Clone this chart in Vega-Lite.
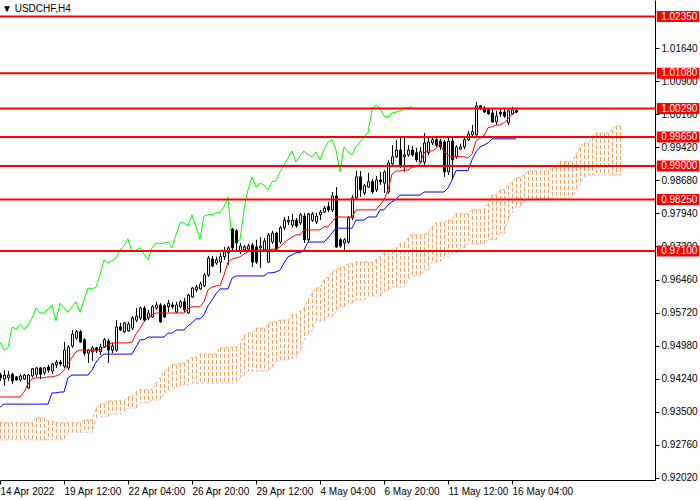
{
  "$schema": "https://vega.github.io/schema/vega-lite/v6.json",
  "width": 655,
  "height": 480,
  "autosize": {"type": "none"},
  "padding": {"left": 0, "top": 0, "right": 45, "bottom": 20},
  "background": "white",
  "config": {
    "view": {"stroke": null},
    "axis": {"grid": false, "title": null, "labelFont": "Liberation Sans", "labelFontSize": 10, "labelColor": "black", "domainColor": "black", "tickColor": "black", "labelOverlap": false, "labelSeparation": 0},
    "scale": {"continuousPadding": 0}
  },
  "title": {"text": "▼  USDCHF,H4", "anchor": "start", "frame": "group", "font": "Liberation Sans", "fontSize": 10, "fontWeight": "normal", "color": "black", "dx": 2, "dy": 14, "offset": 0},
  "datasets": {
    "bars": [
      {"i":0,"o":0.9432,"h":0.9437,"l":0.9419,"c":0.9426,"tk":0.9383,"kj":0.936,"ck":0.9506,"sa":0.9325,"sb":0.9287},
      {"i":1,"o":0.9423,"h":0.9443,"l":0.9408,"c":0.9432,"tk":0.9383,"kj":0.9367,"ck":0.9488,"sa":0.9325,"sb":0.9287},
      {"i":2,"o":0.9426,"h":0.9441,"l":0.9419,"c":0.9432,"tk":0.9383,"kj":0.9367,"ck":0.9493,"sa":0.9325,"sb":0.9287},
      {"i":3,"o":0.9434,"h":0.9437,"l":0.9412,"c":0.9419,"tk":0.9383,"kj":0.9367,"ck":0.954,"sa":0.9325,"sb":0.9287},
      {"i":4,"o":0.9428,"h":0.943,"l":0.9419,"c":0.9421,"tk":0.9383,"kj":0.9367,"ck":0.9535,"sa":0.9325,"sb":0.9287},
      {"i":5,"o":0.9421,"h":0.9434,"l":0.9417,"c":0.943,"tk":0.9383,"kj":0.9367,"ck":0.9546,"sa":0.9325,"sb":0.9287},
      {"i":6,"o":0.9423,"h":0.9434,"l":0.9421,"c":0.9432,"tk":0.9394,"kj":0.9367,"ck":0.9535,"sa":0.9325,"sb":0.9287},
      {"i":7,"o":0.9403,"h":0.9434,"l":0.9401,"c":0.9432,"tk":0.9412,"kj":0.9367,"ck":0.9544,"sa":0.9325,"sb":0.9287},
      {"i":8,"o":0.943,"h":0.9448,"l":0.9426,"c":0.9446,"tk":0.9423,"kj":0.9367,"ck":0.956,"sa":0.9325,"sb":0.9287},
      {"i":9,"o":0.9434,"h":0.945,"l":0.9428,"c":0.9448,"tk":0.9426,"kj":0.9367,"ck":0.9582,"sa":0.9336,"sb":0.9287},
      {"i":10,"o":0.9448,"h":0.945,"l":0.9423,"c":0.9434,"tk":0.9426,"kj":0.9367,"ck":0.9571,"sa":0.9336,"sb":0.9287},
      {"i":11,"o":0.9437,"h":0.945,"l":0.9432,"c":0.9448,"tk":0.9426,"kj":0.9367,"ck":0.9571,"sa":0.9336,"sb":0.9287},
      {"i":12,"o":0.945,"h":0.9455,"l":0.9437,"c":0.9443,"tk":0.9428,"kj":0.9367,"ck":0.958,"sa":0.9329,"sb":0.9287},
      {"i":13,"o":0.9441,"h":0.9459,"l":0.9434,"c":0.9457,"tk":0.9428,"kj":0.9392,"ck":0.9589,"sa":0.9329,"sb":0.9287},
      {"i":14,"o":0.9455,"h":0.9466,"l":0.9448,"c":0.9461,"tk":0.943,"kj":0.9392,"ck":0.9553,"sa":0.9325,"sb":0.9287},
      {"i":15,"o":0.9461,"h":0.9466,"l":0.9452,"c":0.9457,"tk":0.9434,"kj":0.9394,"ck":0.9593,"sa":0.9325,"sb":0.9287},
      {"i":16,"o":0.9452,"h":0.9506,"l":0.9448,"c":0.9488,"tk":0.9443,"kj":0.9394,"ck":0.9582,"sa":0.9325,"sb":0.9287},
      {"i":17,"o":0.9448,"h":0.9499,"l":0.9443,"c":0.9495,"tk":0.9457,"kj":0.9426,"ck":0.9573,"sa":0.9325,"sb":0.9304},
      {"i":18,"o":0.9497,"h":0.9533,"l":0.9493,"c":0.9524,"tk":0.9472,"kj":0.9432,"ck":0.9585,"sa":0.9325,"sb":0.9304},
      {"i":19,"o":0.9515,"h":0.9533,"l":0.9511,"c":0.9529,"tk":0.9484,"kj":0.9432,"ck":0.9596,"sa":0.9325,"sb":0.9304},
      {"i":20,"o":0.9529,"h":0.9533,"l":0.9504,"c":0.9506,"tk":0.9488,"kj":0.9432,"ck":0.9573,"sa":0.9325,"sb":0.9304},
      {"i":21,"o":0.9511,"h":0.9515,"l":0.9475,"c":0.9481,"tk":0.9488,"kj":0.9432,"ck":0.96,"sa":0.9331,"sb":0.9304},
      {"i":22,"o":0.9481,"h":0.949,"l":0.9459,"c":0.9488,"tk":0.9488,"kj":0.9432,"ck":0.9627,"sa":0.9331,"sb":0.9304},
      {"i":23,"o":0.9484,"h":0.9497,"l":0.9464,"c":0.9493,"tk":0.9488,"kj":0.9443,"ck":0.9625,"sa":0.9331,"sb":0.9304},
      {"i":24,"o":0.9493,"h":0.9495,"l":0.9481,"c":0.9486,"tk":0.9488,"kj":0.9461,"ck":0.9629,"sa":0.9358,"sb":0.9331},
      {"i":25,"o":0.9484,"h":0.9502,"l":0.9477,"c":0.9495,"tk":0.9488,"kj":0.9472,"ck":0.9656,"sa":0.9367,"sb":0.934},
      {"i":26,"o":0.9495,"h":0.9515,"l":0.9493,"c":0.9511,"tk":0.9495,"kj":0.9479,"ck":0.969,"sa":0.9367,"sb":0.934},
      {"i":27,"o":0.9508,"h":0.9513,"l":0.9459,"c":0.9488,"tk":0.9499,"kj":0.9479,"ck":0.9683,"sa":0.9374,"sb":0.934},
      {"i":28,"o":0.9488,"h":0.9504,"l":0.9481,"c":0.9497,"tk":0.9504,"kj":0.9479,"ck":0.9688,"sa":0.9374,"sb":0.9345},
      {"i":29,"o":0.9488,"h":0.9555,"l":0.9484,"c":0.954,"tk":0.9504,"kj":0.9479,"ck":0.9694,"sa":0.9374,"sb":0.9345},
      {"i":30,"o":0.954,"h":0.9549,"l":0.9531,"c":0.9533,"tk":0.9504,"kj":0.9479,"ck":0.9712,"sa":0.9374,"sb":0.9345},
      {"i":31,"o":0.9529,"h":0.9551,"l":0.9526,"c":0.9549,"tk":0.9504,"kj":0.9479,"ck":0.9721,"sa":0.9374,"sb":0.9351},
      {"i":32,"o":0.9531,"h":0.9551,"l":0.9529,"c":0.9546,"tk":0.9504,"kj":0.9479,"ck":0.9737,"sa":0.9383,"sb":0.9358},
      {"i":33,"o":0.9537,"h":0.9564,"l":0.9533,"c":0.956,"tk":0.9506,"kj":0.9479,"ck":0.9708,"sa":0.9383,"sb":0.9358},
      {"i":34,"o":0.9555,"h":0.9582,"l":0.9551,"c":0.9564,"tk":0.9524,"kj":0.9495,"ck":0.9712,"sa":0.9394,"sb":0.9358},
      {"i":35,"o":0.956,"h":0.9585,"l":0.9555,"c":0.9582,"tk":0.9537,"kj":0.9511,"ck":0.9717,"sa":0.9399,"sb":0.937},
      {"i":36,"o":0.9582,"h":0.9587,"l":0.9551,"c":0.9555,"tk":0.9551,"kj":0.9511,"ck":0.9703,"sa":0.9399,"sb":0.937},
      {"i":37,"o":0.956,"h":0.9578,"l":0.9555,"c":0.9571,"tk":0.956,"kj":0.9517,"ck":0.969,"sa":0.9399,"sb":0.937},
      {"i":38,"o":0.9562,"h":0.9589,"l":0.956,"c":0.9585,"tk":0.9567,"kj":0.9517,"ck":0.9717,"sa":0.9399,"sb":0.9376},
      {"i":39,"o":0.9582,"h":0.9596,"l":0.9578,"c":0.9589,"tk":0.9571,"kj":0.9517,"ck":0.9728,"sa":0.9414,"sb":0.9376},
      {"i":40,"o":0.9589,"h":0.9593,"l":0.9549,"c":0.9551,"tk":0.9571,"kj":0.9517,"ck":0.9726,"sa":0.9426,"sb":0.9376},
      {"i":41,"o":0.9587,"h":0.9591,"l":0.956,"c":0.9562,"tk":0.9571,"kj":0.9517,"ck":0.9728,"sa":0.9439,"sb":0.9394},
      {"i":42,"o":0.9585,"h":0.96,"l":0.9573,"c":0.9593,"tk":0.9571,"kj":0.9526,"ck":0.973,"sa":0.9448,"sb":0.9394},
      {"i":43,"o":0.9589,"h":0.9596,"l":0.958,"c":0.9585,"tk":0.9571,"kj":0.9526,"ck":0.9717,"sa":0.9455,"sb":0.9403},
      {"i":44,"o":0.9573,"h":0.9596,"l":0.9571,"c":0.9589,"tk":0.9571,"kj":0.9533,"ck":0.9746,"sa":0.9455,"sb":0.9403},
      {"i":45,"o":0.9585,"h":0.96,"l":0.9582,"c":0.9596,"tk":0.9571,"kj":0.9533,"ck":0.9773,"sa":0.9459,"sb":0.941},
      {"i":46,"o":0.9596,"h":0.9605,"l":0.9571,"c":0.9578,"tk":0.9571,"kj":0.9533,"ck":0.9773,"sa":0.9459,"sb":0.941},
      {"i":47,"o":0.9571,"h":0.9614,"l":0.9569,"c":0.9611,"tk":0.958,"kj":0.9542,"ck":0.9766,"sa":0.9466,"sb":0.941},
      {"i":48,"o":0.9607,"h":0.9629,"l":0.9605,"c":0.9627,"tk":0.9585,"kj":0.9549,"ck":0.9791,"sa":0.9472,"sb":0.9414},
      {"i":49,"o":0.9623,"h":0.9634,"l":0.9618,"c":0.9629,"tk":0.9585,"kj":0.9558,"ck":0.9764,"sa":0.9472,"sb":0.9414},
      {"i":50,"o":0.9625,"h":0.9641,"l":0.9623,"c":0.9636,"tk":0.9585,"kj":0.9558,"ck":0.9737,"sa":0.9479,"sb":0.9414},
      {"i":51,"o":0.9632,"h":0.9661,"l":0.9629,"c":0.9656,"tk":0.9596,"kj":0.9567,"ck":0.9788,"sa":0.9479,"sb":0.9414},
      {"i":52,"o":0.9656,"h":0.9699,"l":0.9652,"c":0.9694,"tk":0.9623,"kj":0.9587,"ck":0.9791,"sa":0.9479,"sb":0.9414},
      {"i":53,"o":0.9692,"h":0.9699,"l":0.9674,"c":0.9676,"tk":0.9629,"kj":0.96,"ck":0.9791,"sa":0.9479,"sb":0.9414},
      {"i":54,"o":0.9683,"h":0.9697,"l":0.9679,"c":0.969,"tk":0.9632,"kj":0.9614,"ck":0.9795,"sa":0.9479,"sb":0.9414},
      {"i":55,"o":0.9685,"h":0.9706,"l":0.9661,"c":0.9697,"tk":0.9632,"kj":0.9625,"ck":0.9797,"sa":0.9493,"sb":0.9414},
      {"i":56,"o":0.9697,"h":0.9719,"l":0.969,"c":0.9708,"tk":0.9656,"kj":0.9625,"ck":0.9809,"sa":0.9493,"sb":0.9414},
      {"i":57,"o":0.9706,"h":0.9721,"l":0.9679,"c":0.9717,"tk":0.9685,"kj":0.9625,"ck":0.9831,"sa":0.9493,"sb":0.9414},
      {"i":58,"o":0.9759,"h":0.9762,"l":0.9712,"c":0.9717,"tk":0.9692,"kj":0.9649,"ck":0.973,"sa":0.9495,"sb":0.9414},
      {"i":59,"o":0.9755,"h":0.9759,"l":0.9712,"c":0.9728,"tk":0.9694,"kj":0.9654,"ck":0.973,"sa":0.9495,"sb":0.9414},
      {"i":60,"o":0.9708,"h":0.9728,"l":0.9703,"c":0.9721,"tk":0.9697,"kj":0.9654,"ck":0.9735,"sa":0.9499,"sb":0.9426},
      {"i":61,"o":0.9712,"h":0.9723,"l":0.9708,"c":0.9719,"tk":0.9703,"kj":0.9654,"ck":0.9802,"sa":0.952,"sb":0.9432},
      {"i":62,"o":0.9714,"h":0.9726,"l":0.971,"c":0.9721,"tk":0.9708,"kj":0.9654,"ck":0.9847,"sa":0.9526,"sb":0.9441},
      {"i":63,"o":0.9723,"h":0.9728,"l":0.9674,"c":0.9685,"tk":0.9712,"kj":0.9654,"ck":0.9876,"sa":0.9526,"sb":0.9441},
      {"i":64,"o":0.9719,"h":0.9735,"l":0.9681,"c":0.9685,"tk":0.9712,"kj":0.9654,"ck":0.9853,"sa":0.9537,"sb":0.9441},
      {"i":65,"o":0.9717,"h":0.9741,"l":0.9672,"c":0.9721,"tk":0.9712,"kj":0.9654,"ck":0.9862,"sa":0.9537,"sb":0.9441},
      {"i":66,"o":0.9712,"h":0.9739,"l":0.9708,"c":0.9732,"tk":0.9712,"kj":0.9654,"ck":0.9858,"sa":0.9537,"sb":0.9441},
      {"i":67,"o":0.9685,"h":0.975,"l":0.9683,"c":0.9746,"tk":0.9712,"kj":0.9661,"ck":0.9847,"sa":0.9546,"sb":0.9441},
      {"i":68,"o":0.973,"h":0.9755,"l":0.9726,"c":0.975,"tk":0.9714,"kj":0.9661,"ck":0.9865,"sa":0.9551,"sb":0.945},
      {"i":69,"o":0.975,"h":0.9753,"l":0.9712,"c":0.9714,"tk":0.9714,"kj":0.9663,"ck":0.9867,"sa":0.9551,"sb":0.9459},
      {"i":70,"o":0.973,"h":0.9766,"l":0.9726,"c":0.9762,"tk":0.9719,"kj":0.9667,"ck":0.9887,"sa":0.9555,"sb":0.9466},
      {"i":71,"o":0.9762,"h":0.9786,"l":0.9757,"c":0.9779,"tk":0.9728,"kj":0.9683,"ck":0.9903,"sa":0.9555,"sb":0.9466},
      {"i":72,"o":0.9775,"h":0.9788,"l":0.9768,"c":0.9779,"tk":0.9735,"kj":0.9697,"ck":0.9918,"sa":0.9555,"sb":0.9466},
      {"i":73,"o":0.9768,"h":0.9793,"l":0.9762,"c":0.9779,"tk":0.9741,"kj":0.9701,"ck":0.9934,"sa":0.9567,"sb":0.947},
      {"i":74,"o":0.9779,"h":0.9784,"l":0.9762,"c":0.9766,"tk":0.9746,"kj":0.9706,"ck":0.9909,"sa":0.9567,"sb":0.947},
      {"i":75,"o":0.9773,"h":0.9795,"l":0.9768,"c":0.9791,"tk":0.9746,"kj":0.9706,"ck":0.9923,"sa":0.9576,"sb":0.9488},
      {"i":76,"o":0.9788,"h":0.9795,"l":0.9728,"c":0.9735,"tk":0.9757,"kj":0.9712,"ck":0.9934,"sa":0.9582,"sb":0.9511},
      {"i":77,"o":0.9735,"h":0.9795,"l":0.973,"c":0.9793,"tk":0.9757,"kj":0.973,"ck":0.9925,"sa":0.96,"sb":0.9526},
      {"i":78,"o":0.9779,"h":0.9797,"l":0.9775,"c":0.9793,"tk":0.9757,"kj":0.973,"ck":0.9921,"sa":0.9616,"sb":0.9533},
      {"i":79,"o":0.9775,"h":0.9795,"l":0.977,"c":0.9788,"tk":0.9757,"kj":0.973,"ck":0.9932,"sa":0.9627,"sb":0.9553},
      {"i":80,"o":0.9791,"h":0.9802,"l":0.9779,"c":0.9797,"tk":0.9757,"kj":0.973,"ck":0.9914,"sa":0.9627,"sb":0.9553},
      {"i":81,"o":0.9797,"h":0.9811,"l":0.9795,"c":0.9806,"tk":0.9764,"kj":0.973,"ck":0.9936,"sa":0.9645,"sb":0.9553},
      {"i":82,"o":0.9809,"h":0.982,"l":0.9797,"c":0.9802,"tk":0.9764,"kj":0.9739,"ck":0.9954,"sa":0.9652,"sb":0.9562},
      {"i":83,"o":0.9802,"h":0.9842,"l":0.9797,"c":0.9833,"tk":0.9775,"kj":0.975,"ck":0.9959,"sa":0.9663,"sb":0.9562},
      {"i":84,"o":0.9833,"h":0.9853,"l":0.9717,"c":0.9719,"tk":0.9786,"kj":0.9761,"ck":0.9936,"sa":0.9667,"sb":0.9573},
      {"i":85,"o":0.9735,"h":0.9739,"l":0.9717,"c":0.9721,"tk":0.9786,"kj":0.9761,"ck":0.9887,"sa":0.9674,"sb":0.9585},
      {"i":86,"o":0.9728,"h":0.9739,"l":0.9708,"c":0.9735,"tk":0.9786,"kj":0.9761,"ck":0.9943,"sa":0.9674,"sb":0.9585},
      {"i":87,"o":0.973,"h":0.9788,"l":0.9726,"c":0.9784,"tk":0.9786,"kj":0.9761,"ck":0.9932,"sa":0.9681,"sb":0.9593},
      {"i":88,"o":0.9784,"h":0.9835,"l":0.9779,"c":0.9829,"tk":0.9786,"kj":0.9761,"ck":0.9925,"sa":0.9681,"sb":0.9593},
      {"i":89,"o":0.9829,"h":0.9889,"l":0.9824,"c":0.9876,"tk":0.9802,"kj":0.9779,"ck":0.9943,"sa":0.9685,"sb":0.96},
      {"i":90,"o":0.9876,"h":0.9889,"l":0.9831,"c":0.9847,"tk":0.9802,"kj":0.9779,"ck":0.9954,"sa":0.9685,"sb":0.96},
      {"i":91,"o":0.984,"h":0.986,"l":0.9835,"c":0.9856,"tk":0.9802,"kj":0.9779,"ck":0.9965,"sa":0.9685,"sb":0.96},
      {"i":92,"o":0.9853,"h":0.9885,"l":0.9851,"c":0.9865,"tk":0.9802,"kj":0.9786,"ck":0.9974,"sa":0.9685,"sb":0.9609},
      {"i":93,"o":0.9865,"h":0.9871,"l":0.9838,"c":0.9842,"tk":0.9802,"kj":0.9786,"ck":1.0026,"sa":0.9685,"sb":0.9609},
      {"i":94,"o":0.9847,"h":0.9878,"l":0.9842,"c":0.9869,"tk":0.9802,"kj":0.9786,"ck":1.0037,"sa":0.969,"sb":0.9609},
      {"i":95,"o":0.9869,"h":0.9887,"l":0.9858,"c":0.9865,"tk":0.9813,"kj":0.9802,"ck":1.003,"sa":0.9697,"sb":0.9609},
      {"i":96,"o":0.9862,"h":0.9891,"l":0.984,"c":0.9887,"tk":0.9824,"kj":0.9802,"ck":1.0012,"sa":0.9706,"sb":0.962},
      {"i":97,"o":0.9842,"h":0.9914,"l":0.9838,"c":0.9907,"tk":0.9847,"kj":0.9813,"ck":1.001,"sa":0.9712,"sb":0.962},
      {"i":98,"o":0.9905,"h":0.9947,"l":0.9903,"c":0.9921,"tk":0.9882,"kj":0.982,"ck":1.0019,"sa":0.9712,"sb":0.9629},
      {"i":99,"o":0.9921,"h":0.9959,"l":0.9918,"c":0.9936,"tk":0.9889,"kj":0.9826,"ck":1.0021,"sa":0.9717,"sb":0.9629},
      {"i":100,"o":0.9936,"h":0.9963,"l":0.9896,"c":0.9903,"tk":0.9889,"kj":0.9835,"ck":1.0024,"sa":0.9726,"sb":0.9629},
      {"i":101,"o":0.9921,"h":0.9963,"l":0.9887,"c":0.9925,"tk":0.9891,"kj":0.9835,"ck":1.0028,"sa":0.9726,"sb":0.9629},
      {"i":102,"o":0.9925,"h":0.9947,"l":0.9921,"c":0.9936,"tk":0.9891,"kj":0.9835,"ck":1.003,"sa":0.9739,"sb":0.9645},
      {"i":103,"o":0.9936,"h":0.9945,"l":0.9921,"c":0.9925,"tk":0.9898,"kj":0.9835,"ck":1.0033,"sa":0.9746,"sb":0.9654},
      {"i":104,"o":0.993,"h":0.9941,"l":0.9909,"c":0.9914,"tk":0.9898,"kj":0.9835,"sa":0.9746,"sb":0.9654},
      {"i":105,"o":0.9909,"h":0.9943,"l":0.9907,"c":0.9932,"tk":0.9905,"kj":0.9835,"sa":0.9746,"sb":0.9654},
      {"i":106,"o":0.9909,"h":0.9974,"l":0.9903,"c":0.9952,"tk":0.993,"kj":0.9842,"sa":0.9746,"sb":0.9667},
      {"i":107,"o":0.993,"h":0.9963,"l":0.9925,"c":0.9954,"tk":0.9934,"kj":0.9842,"sa":0.9752,"sb":0.9667},
      {"i":108,"o":0.9952,"h":0.9965,"l":0.9947,"c":0.9959,"tk":0.9934,"kj":0.9842,"sa":0.9764,"sb":0.9685},
      {"i":109,"o":0.9959,"h":0.9965,"l":0.9943,"c":0.9947,"tk":0.9939,"kj":0.9842,"sa":0.9773,"sb":0.9685},
      {"i":110,"o":0.9956,"h":0.9961,"l":0.9936,"c":0.9943,"tk":0.995,"kj":0.9842,"sa":0.9773,"sb":0.9685},
      {"i":111,"o":0.9954,"h":0.9959,"l":0.9876,"c":0.9887,"tk":0.9932,"kj":0.9842,"sa":0.9773,"sb":0.9697},
      {"i":112,"o":0.9887,"h":0.9963,"l":0.988,"c":0.9956,"tk":0.9925,"kj":0.9851,"sa":0.9779,"sb":0.9697},
      {"i":113,"o":0.9956,"h":0.9963,"l":0.9869,"c":0.9914,"tk":0.9921,"kj":0.9869,"sa":0.9779,"sb":0.9706},
      {"i":114,"o":0.9921,"h":0.9947,"l":0.9916,"c":0.9943,"tk":0.9921,"kj":0.989,"sa":0.9793,"sb":0.9706},
      {"i":115,"o":0.9938,"h":0.995,"l":0.9936,"c":0.9943,"tk":0.9921,"kj":0.989,"sa":0.9793,"sb":0.9717},
      {"i":116,"o":0.9943,"h":0.9963,"l":0.9938,"c":0.9959,"tk":0.9921,"kj":0.989,"sa":0.9793,"sb":0.9717},
      {"i":117,"o":0.9959,"h":0.9979,"l":0.9956,"c":0.9972,"tk":0.9918,"kj":0.989,"sa":0.9793,"sb":0.9726},
      {"i":118,"o":0.997,"h":0.9992,"l":0.9965,"c":0.9977,"tk":0.9927,"kj":0.9914,"sa":0.9802,"sb":0.9726},
      {"i":119,"o":0.997,"h":1.0044,"l":0.9965,"c":1.0035,"tk":0.9956,"kj":0.9932,"sa":0.9802,"sb":0.9726},
      {"i":120,"o":1.0035,"h":1.0037,"l":1.0026,"c":1.003,"tk":0.9963,"kj":0.9943,"sa":0.9802,"sb":0.9726},
      {"i":121,"o":1.003,"h":1.0035,"l":1.0019,"c":1.0021,"tk":0.9968,"kj":0.9947,"sa":0.9802,"sb":0.9726},
      {"i":122,"o":1.0026,"h":1.003,"l":1.0015,"c":1.0017,"tk":0.9986,"kj":0.9952,"sa":0.9817,"sb":0.9735},
      {"i":123,"o":1.0019,"h":1.0028,"l":0.9997,"c":0.9999,"tk":0.9988,"kj":0.9961,"sa":0.9835,"sb":0.9735},
      {"i":124,"o":0.9999,"h":1.0024,"l":0.9992,"c":1.0012,"tk":0.9992,"kj":0.9961,"sa":0.9835,"sb":0.9735},
      {"i":125,"o":1.0021,"h":1.003,"l":1.001,"c":1.0017,"tk":0.9992,"kj":0.9961,"sa":0.9847,"sb":0.975},
      {"i":126,"o":1.0021,"h":1.003,"l":1.0008,"c":1.0012,"tk":0.9997,"kj":0.9961,"sa":0.9847,"sb":0.975},
      {"i":127,"o":0.9997,"h":1.0028,"l":0.9992,"c":1.0024,"tk":1.0006,"kj":0.9961,"sa":0.9856,"sb":0.9779},
      {"i":128,"o":1.0017,"h":1.0033,"l":1.0015,"c":1.0026,"tk":1.0017,"kj":0.9961,"sa":0.9865,"sb":0.9795},
      {"i":129,"o":1.0024,"h":1.0028,"l":1.0019,"c":1.0021,"tk":1.0021,"kj":0.9961,"sa":0.9874,"sb":0.9809},
      {"i":130,"sa":0.9874,"sb":0.9809},
      {"i":131,"sa":0.988,"sb":0.982},
      {"i":132,"sa":0.9889,"sb":0.9826},
      {"i":133,"sa":0.9889,"sb":0.9826},
      {"i":134,"sa":0.9889,"sb":0.9826},
      {"i":135,"sa":0.9889,"sb":0.9826},
      {"i":136,"sa":0.9889,"sb":0.9826},
      {"i":137,"sa":0.9889,"sb":0.9826},
      {"i":138,"sa":0.9896,"sb":0.9826},
      {"i":139,"sa":0.9896,"sb":0.9826},
      {"i":140,"sa":0.991,"sb":0.9826},
      {"i":141,"sa":0.991,"sb":0.9826},
      {"i":142,"sa":0.991,"sb":0.9826},
      {"i":143,"sa":0.991,"sb":0.9831},
      {"i":144,"sa":0.9925,"sb":0.9847},
      {"i":145,"sa":0.9941,"sb":0.986},
      {"i":146,"sa":0.9952,"sb":0.9876},
      {"i":147,"sa":0.9952,"sb":0.988},
      {"i":148,"sa":0.9965,"sb":0.988},
      {"i":149,"sa":0.9974,"sb":0.988},
      {"i":150,"sa":0.9974,"sb":0.988},
      {"i":151,"sa":0.9974,"sb":0.988},
      {"i":152,"sa":0.9974,"sb":0.988},
      {"i":153,"sa":0.9981,"sb":0.988},
      {"i":154,"sa":0.999,"sb":0.988},
      {"i":155,"sa":0.999,"sb":0.988}
    ],
    "levels": [
      {"v": 1.0235},
      {"v": 1.0108},
      {"v": 1.0029},
      {"v": 0.9965},
      {"v": 0.99},
      {"v": 0.9825},
      {"v": 0.971}
    ]
  },
  "layer": [
    {
      "data": {"name": "bars"},
      "mark": {"type": "rule", "color": "#f4a460", "strokeWidth": 1, "strokeDash": [4, 2], "xOffset": 0.5},
      "encoding": {
        "x": {
          "field": "i", "type": "quantitative",
          "scale": {"domain": [0, 163.75], "nice": false, "zero": false, "padding": 0},
          "axis": {
            "orient": "bottom", "values": [0, 16, 32, 48, 64, 80, 96, 112, 128],
            "labelExpr": "datum.value == 0 ? '14 Apr 2022' : datum.value == 16 ? '19 Apr 12:00' : datum.value == 32 ? '22 Apr 04:00' : datum.value == 48 ? '26 Apr 20:00' : datum.value == 64 ? '29 Apr 12:00' : datum.value == 80 ? '4 May 04:00' : datum.value == 96 ? '6 May 20:00' : datum.value == 112 ? '11 May 12:00' : '16 May 04:00'",
            "labelAlign": "left", "labelDx": 1, "tickSize": 4, "labelPadding": 2,
            "labelFlush": false, "labelOverlap": false, "labelBound": false
          }
        },
        "y": {
          "field": "sa", "type": "quantitative",
          "scale": {"domain": [0.9197, 1.0272], "nice": false, "zero": false, "padding": 0},
          "axis": {
            "orient": "right", "format": ".5f", "tickSize": 4, "labelPadding": 2,
            "values": [0.9202, 0.9276, 0.935, 0.9424, 0.9498, 0.9572, 0.9646, 0.972, 0.9794, 0.9868, 0.9942, 1.0016, 1.009, 1.0164],
            "labelOverlap": false, "labelSeparation": 0, "tickCount": 14
          }
        },
        "y2": {"field": "sb"}
      }
    },
    {
      "data": {"name": "bars"},
      "mark": {"type": "line", "color": "#f4a460", "strokeWidth": 1, "strokeDash": [3, 2]},
      "encoding": {"x": {"field": "i", "type": "quantitative"}, "y": {"field": "sa", "type": "quantitative"}}
    },
    {
      "data": {"name": "bars"},
      "mark": {"type": "line", "color": "#d8bfd8", "strokeWidth": 1, "strokeDash": [3, 2]},
      "encoding": {"x": {"field": "i", "type": "quantitative"}, "y": {"field": "sb", "type": "quantitative"}}
    },
    {
      "data": {"name": "bars"},
      "transform": [{"filter": "isValid(datum.ck)"}],
      "mark": {"type": "line", "color": "#00ff00", "strokeWidth": 1},
      "encoding": {"x": {"field": "i", "type": "quantitative"}, "y": {"field": "ck", "type": "quantitative"}}
    },
    {
      "data": {"name": "bars"},
      "transform": [{"filter": "isValid(datum.h)"}],
      "mark": {"type": "rule", "color": "black", "strokeWidth": 1, "xOffset": 0.5},
      "encoding": {"x": {"field": "i", "type": "quantitative"}, "y": {"field": "l", "type": "quantitative"}, "y2": {"field": "h"}}
    },
    {
      "data": {"name": "bars"},
      "transform": [{"filter": "isValid(datum.o)"}],
      "mark": {"type": "bar", "orient": "vertical", "size": 2, "stroke": "black", "strokeWidth": 1, "xOffset": 0.5},
      "encoding": {
        "x": {"field": "i", "type": "quantitative"},
        "y": {"field": "o", "type": "quantitative"},
        "y2": {"field": "c"},
        "fill": {"condition": {"test": "datum.c >= datum.o", "value": "white"}, "value": "black"}
      }
    },
    {
      "data": {"name": "bars"},
      "transform": [{"filter": "isValid(datum.tk)"}],
      "mark": {"type": "line", "color": "#ff0000", "strokeWidth": 1},
      "encoding": {"x": {"field": "i", "type": "quantitative"}, "y": {"field": "tk", "type": "quantitative"}}
    },
    {
      "data": {"name": "bars"},
      "transform": [{"filter": "isValid(datum.kj)"}],
      "mark": {"type": "line", "color": "#0000ff", "strokeWidth": 1},
      "encoding": {"x": {"field": "i", "type": "quantitative"}, "y": {"field": "kj", "type": "quantitative"}}
    },
    {
      "data": {"name": "levels"},
      "mark": {"type": "rule", "color": "#ff0000", "strokeWidth": 2},
      "encoding": {"y": {"field": "v", "type": "quantitative"}}
    },
    {
      "data": {"name": "levels"},
      "mark": {"type": "bar", "color": "#ff0000", "size": 11},
      "encoding": {
        "x": {"datum": 164.2, "type": "quantitative"},
        "x2": {"datum": 174.8},
        "y": {"field": "v", "type": "quantitative"}
      }
    },
    {
      "data": {"name": "levels"},
      "mark": {"type": "text", "color": "white", "font": "Liberation Sans", "fontSize": 10, "align": "left", "baseline": "middle"},
      "encoding": {
        "x": {"datum": 165.3, "type": "quantitative"},
        "y": {"field": "v", "type": "quantitative"},
        "text": {"field": "v", "type": "quantitative", "format": ".5f"}
      }
    }
  ]
}
